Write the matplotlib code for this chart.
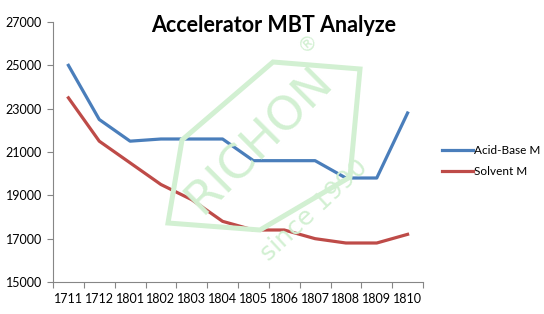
import matplotlib
matplotlib.use('Agg')
import matplotlib.pyplot as plt
from matplotlib.patches import Polygon

plt.rcParams['font.family'] = ['Lato', 'DejaVu Sans']

categories = ['1711', '1712', '1801', '1802', '1803', '1804',
              '1805', '1806', '1807', '1808', '1809', '1810']
acid_base = [25000, 22500, 21500, 21600, 21600, 21600,
             20600, 20600, 20600, 19800, 19800, 22800]
solvent = [23500, 21500, 20500, 19500, 18800, 17800,
           17400, 17400, 17000, 16800, 16800, 17200]
y_ticks = [15000, 17000, 19000, 21000, 23000, 25000, 27000]

W, H = 544, 314
WM = '#D2F0D2'


def px(x, y):
    """ pixel coords -> figure fraction """
    return x / W, 1 - y / H


fig = plt.figure(figsize=(W / 100, H / 100), dpi=100)
ax = fig.add_axes([53 / W, 1 - 282 / H, (423 - 53) / W, (282 - 22) / H])

x = list(range(len(categories)))
ax.plot(x, acid_base, color='#4A7EBB', linewidth=2.3, label='Acid-Base M', zorder=3)
ax.plot(x, solvent, color='#BE4B48', linewidth=2.3, label='Solvent M', zorder=3)

ax.set_xlim(-0.5, len(categories) - 0.5)
ax.set_ylim(15000, 27000)
ax.set_yticks(y_ticks)
ax.set_yticklabels([str(v) for v in y_ticks], fontsize=9)
ax.set_xticks([i - 0.5 for i in range(len(categories) + 1)])
ax.set_xticklabels([])
ax.set_xticks(x, minor=True)
ax.set_xticklabels(categories, minor=True, fontsize=9)
ax.tick_params(axis='x', which='major', direction='out', length=4, color='#868686')
ax.tick_params(axis='x', which='minor', length=0, pad=8)
ax.tick_params(axis='y', direction='out', length=4, color='#868686', pad=4)
for side in ['top', 'right']:
    ax.spines[side].set_visible(False)
for side in ['left', 'bottom']:
    ax.spines[side].set_color('#868686')
ax.patch.set_alpha(0)

fig.text(*px(274, 25), 'Accelerator MBT Analyze', fontsize=15.5, fontweight='bold',
         ha='center', va='center')

fig.legend(loc='center left', bbox_to_anchor=px(442, 161), frameon=False,
           borderaxespad=0, borderpad=0, fontsize=8.5, handlelength=2.6,
           handletextpad=0.15, labelspacing=0.9)

# watermark
hexagon = [(273, 62), (360, 69), (350, 177), (260, 230), (168, 223), (182, 140)]
fig.patches.append(Polygon([px(a, b) for a, b in hexagon], closed=True, fill=False,
                           edgecolor=WM, linewidth=3.6, joinstyle='miter',
                           transform=fig.transFigure, zorder=0))
fig.text(*px(259, 141), 'RICHON', fontsize=34, color=WM, rotation=45,
         ha='center', va='center', family='DejaVu Sans', zorder=0)
fig.text(*px(314, 210), 'since 1990', fontsize=18, color=WM, rotation=43,
         ha='center', va='center', family='DejaVu Sans', zorder=0)
fig.text(*px(308, 43), '®', fontsize=14, color=WM, rotation=42,
         ha='center', va='center', family='DejaVu Sans', zorder=0)

fig.savefig('out.png', dpi=100)
